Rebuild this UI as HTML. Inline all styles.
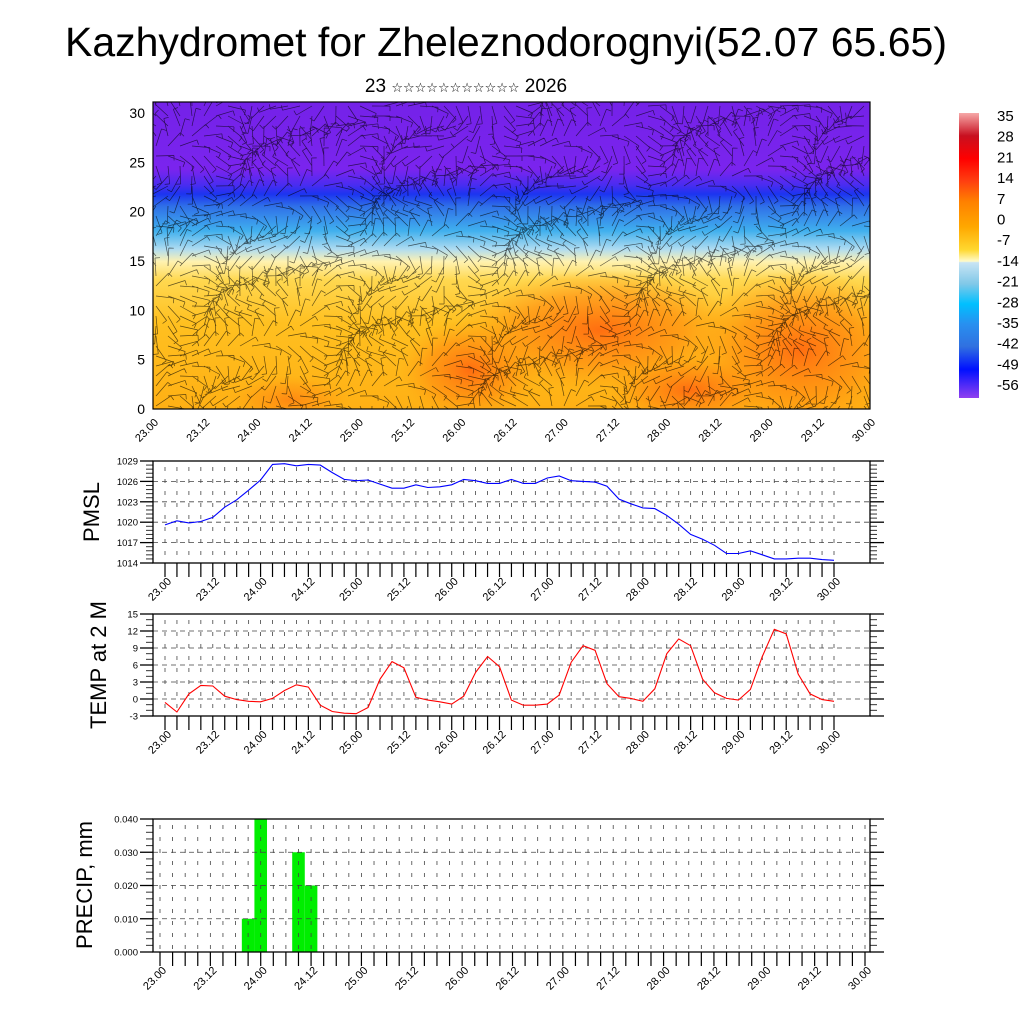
<!DOCTYPE html>
<html><head><meta charset="utf-8"><title>Kazhydromet meteogram</title>
<style>
html,body{margin:0;padding:0;background:#fff;}
svg{display:block;font-family:"Liberation Sans","DejaVu Sans",sans-serif;}
</style></head>
<body>
<svg id="chart" width="1024" height="1024" viewBox="0 0 1024 1024" xmlns="http://www.w3.org/2000/svg">
<defs>
<linearGradient id="fieldGrad" x1="0" y1="0" x2="0" y2="1">
<stop offset="0" stop-color="#7422e8"/>
<stop offset="0.22" stop-color="#7a24ee"/>
<stop offset="0.27" stop-color="#4a2cf0"/>
<stop offset="0.30" stop-color="#1c34f0"/>
<stop offset="0.34" stop-color="#2f70e8"/>
<stop offset="0.42" stop-color="#40b0ee"/>
<stop offset="0.48" stop-color="#b0dcf0"/>
<stop offset="0.52" stop-color="#fff2b0"/>
<stop offset="0.58" stop-color="#ffd850"/>
<stop offset="0.72" stop-color="#ffc020"/>
<stop offset="1" stop-color="#ffb014"/>
</linearGradient>
<radialGradient id="orangeBlob"><stop offset="0" stop-color="#ff6a10" stop-opacity="0.95"/><stop offset="0.6" stop-color="#ff8a10" stop-opacity="0.6"/><stop offset="1" stop-color="#ffa010" stop-opacity="0"/></radialGradient>
<linearGradient id="cbGrad" x1="0" y1="0" x2="0" y2="1">
<stop offset="0" stop-color="#f6a8a8"/>
<stop offset="0.08" stop-color="#c81020"/>
<stop offset="0.16" stop-color="#ff0000"/>
<stop offset="0.24" stop-color="#ff4010"/>
<stop offset="0.31" stop-color="#ff8000"/>
<stop offset="0.40" stop-color="#ffa800"/>
<stop offset="0.48" stop-color="#ffd830"/>
<stop offset="0.52" stop-color="#fffac8"/>
<stop offset="0.525" stop-color="#c8e4f4"/>
<stop offset="0.60" stop-color="#80c8e8"/>
<stop offset="0.67" stop-color="#00c0ff"/>
<stop offset="0.74" stop-color="#2890f0"/>
<stop offset="0.82" stop-color="#3070e0"/>
<stop offset="0.90" stop-color="#0010ff"/>
<stop offset="1" stop-color="#9040f0"/>
</linearGradient>
<clipPath id="fieldClip"><rect x="153" y="102" width="717" height="307"/></clipPath>
</defs>

<text x="506" y="56" text-anchor="middle" font-size="41">Kazhydromet for Zheleznodorognyi(52.07 65.65)</text>
<text x="466" y="92" text-anchor="middle" font-size="19">23 <tspan font-size="13">☆☆☆☆☆☆☆☆☆☆☆</tspan> 2026</text>

<g id="field" clip-path="url(#fieldClip)">
<rect x="153" y="102" width="717" height="307" fill="url(#fieldGrad)"/>
<ellipse cx="470" cy="370" rx="70" ry="50" fill="url(#orangeBlob)"/>
<ellipse cx="600" cy="330" rx="140" ry="60" fill="url(#orangeBlob)"/>
<ellipse cx="800" cy="350" rx="110" ry="80" fill="url(#orangeBlob)"/>
<ellipse cx="690" cy="390" rx="80" ry="35" fill="url(#orangeBlob)"/>
<ellipse cx="290" cy="400" rx="60" ry="25" fill="url(#orangeBlob)" opacity="0.6"/>
<g id="barbs" stroke="#000" stroke-width="0.7" stroke-opacity="0.62" fill="none"></g>
</g>
<rect x="153" y="102" width="717" height="307" fill="none" stroke="#000" stroke-width="1.2"/>
<g id="fieldAxes" font-size="14"></g>

<g>
<rect x="959" y="113" width="20" height="285" fill="url(#cbGrad)"/>
<g id="cbLabels" font-size="15"></g>
</g>

<g id="pmslPanel"></g>
<g id="tempPanel"></g>
<g id="precipPanel"></g>

<text transform="translate(99,512) rotate(-90)" text-anchor="middle" font-size="22">PMSL</text>
<text transform="translate(106,665) rotate(-90)" text-anchor="middle" font-size="22">TEMP at 2 M</text>
<text transform="translate(92,885) rotate(-90)" text-anchor="middle" font-size="22">PRECIP, mm</text>
</svg>
<script>
const timeLabels = ["23.00","23.12","24.00","24.12","25.00","25.12","26.00","26.12","27.00","27.12","28.00","28.12","29.00","29.12","30.00"];
const pmslValues = [1019.6,1020.2,1019.9,1020.1,1020.7,1022.2,1023.3,1024.7,1026.2,1028.5,1028.6,1028.3,1028.5,1028.4,1027.3,1026.3,1026.1,1026.2,1025.6,1025.0,1025.0,1025.5,1025.1,1025.2,1025.5,1026.3,1026.1,1025.7,1025.7,1026.3,1025.7,1025.7,1026.5,1026.8,1026.1,1026.0,1025.9,1025.3,1023.4,1022.7,1022.1,1022.0,1021.0,1019.7,1018.2,1017.5,1016.6,1015.4,1015.4,1015.8,1015.2,1014.6,1014.6,1014.7,1014.7,1014.5,1014.4];
const tempValues = [-0.6,-2.3,0.9,2.4,2.3,0.5,-0.1,-0.4,-0.5,0.1,1.5,2.5,2.1,-1.1,-2.2,-2.5,-2.6,-1.5,3.5,6.6,5.5,0.3,-0.2,-0.5,-0.9,0.5,4.7,7.5,5.7,-0.2,-1.1,-1.1,-0.9,0.7,6.5,9.4,8.6,2.7,0.4,0.1,-0.4,1.8,8.0,10.6,9.4,3.5,1.1,0.1,-0.2,1.7,7.5,12.3,11.5,4.4,0.9,-0.1,-0.4];
const precipValues = [0,0,0,0,0,0,0,0.01,0.04,0,0,0.03,0.02,0,0,0,0,0,0,0,0,0,0,0,0,0,0,0,0,0,0,0,0,0,0,0,0,0,0,0,0,0,0,0,0,0,0,0,0,0,0,0,0,0,0,0,0];
const pmslTicks = [1014,1017,1020,1023,1026,1029];
const tempTicks = [-3,0,3,6,9,12,15];
const precipTicks = [0,0.01,0.02,0.03,0.04];
const heightTicks = [0,5,10,15,20,25,30];
const colorbarLabels = ["35","28","21","14","7","0","-7","-14","-21","-28","-35","-42","-49","-56"];

const NS = "http://www.w3.org/2000/svg";
function mk(tag, attrs, parent){const e=document.createElementNS(NS,tag);for(const k in attrs)e.setAttribute(k,attrs[k]);parent.appendChild(e);return e;}

/* wind barbs texture */
const barbs=document.getElementById('barbs');
let d='';
for(let x=156;x<872;x+=12){for(let y=106;y<410;y+=10){
  const a=Math.sin(x*0.031+y*0.05)*1.6+Math.cos(x*0.013-y*0.041)*1.3+(y<200?0.3:0);
  const L=18, dx=Math.cos(a)*L, dy=Math.sin(a)*L;
  const x2=x+dx,y2=y+dy;
  d+=`M${x.toFixed(1)} ${y.toFixed(1)}L${x2.toFixed(1)} ${y2.toFixed(1)}`;
  const px=-Math.sin(a)*5, py=Math.cos(a)*5;
  d+=`M${x2.toFixed(1)} ${y2.toFixed(1)}l${px.toFixed(1)} ${py.toFixed(1)}`;
}}
const bp=mk('path',{d:d},barbs);



/* field axes */
const fa=document.getElementById('fieldAxes');


const yH=v=>409-v*9.87;
heightTicks.forEach(v=>{
  const t=mk('text',{x:145,y:yH(v)+5,'text-anchor':'end'},fa);t.textContent=v;
  
  
});
timeLabels.forEach((s,k)=>{
  const x=153+k*717/14;
  const t=mk('text',{transform:`translate(${x+6},${423}) rotate(-45)`,'text-anchor':'end','font-size':11},fa);t.textContent=s;
  
  
});

/* colorbar labels */
const cbl=document.getElementById('cbLabels');
colorbarLabels.forEach((s,k)=>{
  const t=mk('text',{x:997,y:121+k*20.7},cbl);t.textContent=s;
  
  
});

/* generic panel */
function panel(g, cfg){
  const {x0,x1,yTop,yBot,dx0,dx1,ticks,vmin,vmax,fmt,nMinor}=cfg;
  const xs=i=>dx0+i*(dx1-dx0)/56;
  const ys=v=>yBot-(v-vmin)*(yBot-yTop)/(vmax-vmin);
  for(let i=0;i<=56;i++){
    const l=mk('line',{x1:xs(i),x2:xs(i),y1:yTop+6,y2:yBot,stroke:'#444','stroke-width':0.8,'stroke-dasharray':'4 8'},g);
    
    
    const tk=mk('line',{x1:xs(i),x2:xs(i),y1:yBot,y2:yBot+14,stroke:'#000','stroke-width':1.2},g);
    
    
  }
  ticks.forEach((v,k)=>{
    const y=ys(v);
    if(k>0&&k<ticks.length-1){
      const l=mk('line',{x1:x0,x2:x1,y1:y,y2:y,stroke:'#444','stroke-width':0.8,'stroke-dasharray':'5 4'},g);
      
      
    }
    const a=mk('line',{x1:x0-13,x2:x0,y1:y,y2:y,stroke:'#000','stroke-width':1.3},g);
    
    
    const b=mk('line',{x1:x1,x2:x1+14,y1:y,y2:y,stroke:'#000','stroke-width':1.3},g);
    
    
    const t=mk('text',{x:x0-15,y:y+3.5,'text-anchor':'end','font-size':9.5},g);t.textContent=fmt(v);
    
    
    if(k<ticks.length-1){
      const step=(ticks[k+1]-v)/nMinor;
      for(let m=1;m<nMinor;m++){
        const ym=ys(v+m*step);
        const c=mk('line',{x1:x0-7,x2:x0,y1:ym,y2:ym,stroke:'#333','stroke-width':1},g);
        
        
        const e=mk('line',{x1:x1,x2:x1+7,y1:ym,y2:ym,stroke:'#333','stroke-width':1},g);
        
        
      }
    }
  });
  const fr=mk('rect',{x:x0,y:yTop,width:x1-x0,height:yBot-yTop,fill:'none',stroke:'#000','stroke-width':1.3},g);
  
  
  timeLabels.forEach((s,k)=>{
    const x=xs(k*4);
    const t=mk('text',{transform:`translate(${x+7},${yBot+19}) rotate(-45)`,'text-anchor':'end','font-size':11},g);t.textContent=s;
    
    
  });
  return {xs,ys};
}

/* PMSL */
const pg=document.getElementById('pmslPanel');
const P=panel(pg,{x0:153,x1:870,yTop:461,yBot:563,dx0:165,dx1:834,ticks:pmslTicks,vmin:1014,vmax:1029,fmt:v=>v,nMinor:5});
const pl=mk('polyline',{points:pmslValues.map((v,i)=>P.xs(i).toFixed(1)+','+P.ys(v).toFixed(1)).join(' '),fill:'none',stroke:'#0000ff','stroke-width':1.1},pg);



/* TEMP */
const tg=document.getElementById('tempPanel');
const T=panel(tg,{x0:153,x1:870,yTop:614,yBot:716,dx0:165,dx1:834,ticks:tempTicks,vmin:-3,vmax:15,fmt:v=>v,nMinor:3});
const tl=mk('polyline',{points:tempValues.map((v,i)=>T.xs(i).toFixed(1)+','+T.ys(v).toFixed(1)).join(' '),fill:'none',stroke:'#ff0000','stroke-width':1.1},tg);



/* PRECIP */
const rg=document.getElementById('precipPanel');
const bars=document.createElementNS(NS,'g');
const R=panel(rg,{x0:153,x1:870,yTop:819,yBot:952,dx0:160,dx1:865,ticks:precipTicks,vmin:0,vmax:0.04,fmt:v=>v.toFixed(3),nMinor:5});
rg.insertBefore(bars,rg.firstChild);
const bw=705/56;
precipValues.forEach((v,i)=>{
  if(v<=0)return;
  const y=R.ys(v);
  const r=mk('rect',{x:R.xs(i)-bw/2,y:y,width:bw,height:952-y,fill:'#00ee00'},bars);
  
  
});
</script>
</body></html>
